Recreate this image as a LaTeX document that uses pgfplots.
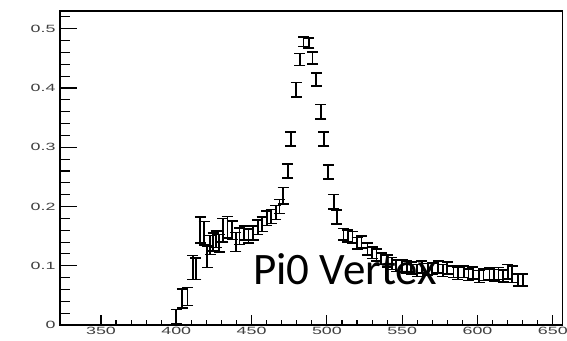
\documentclass[border=0pt]{standalone}
\usepackage{pgfplots}
\pgfplotsset{compat=1.18}
\usepackage{pgfplotstable}
\usepackage{fontspec}
\newfontfamily\tickfont[FakeStretch=1.7]{Liberation Sans}
\newfontfamily\labelfont{Carlito}

% invariant mass distribution: x, value, uncertainty
\pgfplotstableread{
x      y      e
400    0.014  0.012
404    0.045  0.016
407.5  0.048  0.015
411    0.097  0.020
413    0.095  0.018
416    0.160  0.022
418.5  0.155  0.020
420.5  0.115  0.018
422.5  0.135  0.016
424.5  0.140  0.015
426.5  0.145  0.014
428.5  0.138  0.015
431    0.160  0.020
434    0.165  0.018
437    0.160  0.016
439.5  0.140  0.016
442    0.150  0.014
445    0.155  0.012
448    0.150  0.012
451    0.155  0.012
454    0.165  0.012
457    0.170  0.012
460    0.180  0.012
463    0.183  0.012
466    0.190  0.012
468.5  0.200  0.012
471    0.218  0.014
474    0.260  0.012
476    0.314  0.012
479.5  0.397  0.012
482    0.448  0.010
484.5  0.478  0.008
488    0.476  0.008
490.5  0.451  0.010
493    0.414  0.011
496    0.360  0.012
498    0.314  0.012
501    0.258  0.012
504.5  0.208  0.012
506.5  0.182  0.012
511    0.153  0.010
514    0.150  0.010
517    0.148  0.010
520    0.138  0.010
523    0.140  0.010
527    0.128  0.010
530    0.122  0.010
533    0.118  0.010
536    0.112  0.010
540    0.108  0.010
543    0.104  0.010
546    0.100  0.010
550    0.100  0.010
553    0.098  0.010
556    0.096  0.010
560    0.092  0.010
563    0.098  0.010
567    0.094  0.010
570    0.095  0.010
574    0.098  0.010
577    0.092  0.010
580    0.096  0.010
584    0.090  0.010
587    0.087  0.010
591    0.090  0.010
594    0.085  0.010
597    0.088  0.010
601    0.082  0.010
604    0.085  0.010
608    0.086  0.010
611    0.084  0.010
614    0.087  0.010
617    0.083  0.010
620    0.090  0.012
623    0.086  0.014
627    0.076  0.010
630    0.076  0.010
}\massdata

% y tick marks along the left edge: major ticks end at x=334.1 (17bp in),
% minor ticks at x=329.4 (10bp in); xcomb lines are clipped at xmin
\pgfplotstableread{
x      y
334.1  0.1
334.1  0.2
334.1  0.3
334.1  0.4
334.1  0.5
}\ymajor
\pgfplotstableread{
x      y
329.4  0.02
329.4  0.04
329.4  0.06
329.4  0.08
329.4  0.12
329.4  0.14
329.4  0.16
329.4  0.18
329.4  0.22
329.4  0.24
329.4  0.26
329.4  0.28
329.4  0.32
329.4  0.34
329.4  0.36
329.4  0.38
329.4  0.42
329.4  0.44
329.4  0.46
329.4  0.48
329.4  0.52
}\yminor

\begin{document}
\begin{tikzpicture}
\useasboundingbox (-60bp,-16bp) rectangle (507bp,325bp);
\begin{axis}[
  scale only axis,
  width=502.6bp, height=314bp,
  xmin=322.8, xmax=656.5,
  ymin=0, ymax=0.530,
  axis line style={line width=1.3bp},
  tick align=inside,
  xtick={350,400,...,650},
  ytick={0,0.1,0.2,0.3,0.4,0.5},
  minor x tick num=4,
  xtick pos=bottom,
  ytick pos=left,
  major tick length=10bp, minor tick length=5bp,
  xtick style={line width=1.1bp, black},
  ytick style={draw=none},
  /pgf/number format/assume math mode=true,
  /pgf/number format/fixed,
  tick label style={font=\tickfont\fontsize{10.5bp}{12bp}\selectfont, text=black!75},
  xticklabel style={yshift=1bp},
  yticklabel style={xshift=-1bp},
]
\addplot[xcomb, mark=none, black, line width=1.1bp] table[x=x, y=y] {\ymajor};
\addplot[xcomb, mark=none, black, line width=1.1bp] table[x=x, y=y] {\yminor};
\addplot[mark=none, draw=none,
  error bars/.cd, y dir=both, y explicit,
  error mark=|, error mark options={mark size=5.5bp, line width=1.6bp, black},
  error bar style={line width=1.8bp, black}]
  table[x=x, y=y, y error=e] {\massdata};
\node[anchor=base west, inner sep=0pt, font=\labelfont\fontsize{45bp}{50bp}\selectfont]
  at (axis cs:451,0.068) {Pi0 Vertex};
\end{axis}
\end{tikzpicture}
\end{document}
